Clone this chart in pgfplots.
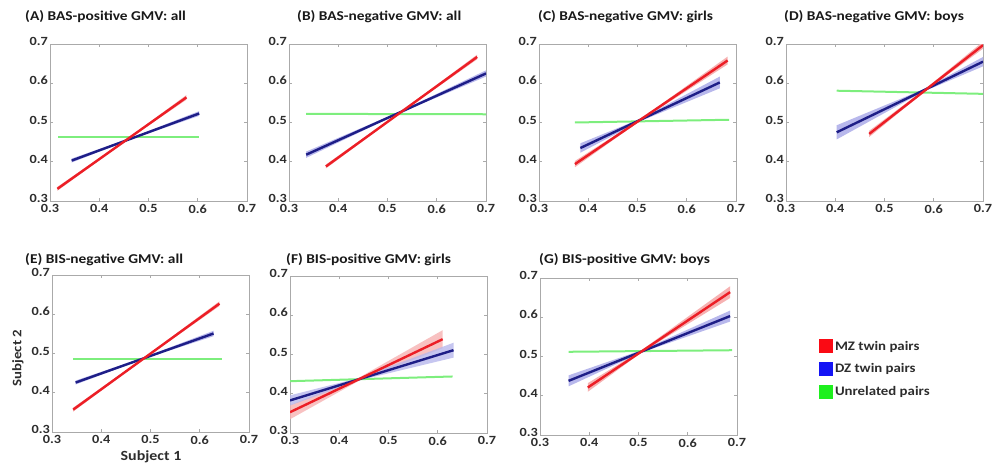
\documentclass[border=0pt]{standalone}
\usepackage{fontspec}
\setmainfont{Carlito}[FakeStretch=1.14]
\usepackage{pgfplots}
\pgfplotsset{compat=1.18}

\definecolor{mzline}{RGB}{236,30,38}
\definecolor{dzline}{RGB}{30,30,135}
\definecolor{unline}{RGB}{125,238,125}
\definecolor{mzband}{RGB}{246,178,178}
\definecolor{dzband}{RGB}{184,184,236}
\definecolor{mzleg}{RGB}{250,10,20}
\definecolor{dzleg}{RGB}{20,20,245}
\definecolor{unleg}{RGB}{30,240,30}
\definecolor{axisgray}{RGB}{170,170,170}
\definecolor{labelgray}{RGB}{45,45,45}

\pgfplotsset{
  panel/.style={
    width=197pt, height=157pt, scale only axis, anchor=south west,
    xmin=0.3, xmax=0.7, ymin=0.3, ymax=0.7,
    xtick={0.3,0.4,0.5,0.6,0.7}, ytick={0.3,0.4,0.5,0.6,0.7},
    axis line style={draw=axisgray, line width=0.9pt},
    tick style={draw=axisgray, line width=0.6pt},
    major tick length=3pt, tick align=inside,
    xtick pos=both, ytick pos=both,
    ticklabel style={font=\bfseries\fontsize{12.5}{13}\selectfont, text=labelgray},
    xticklabel style={inner sep=0.5pt, yshift=-3pt},
    yticklabel style={inner sep=0.5pt, xshift=-1.5pt, yshift=2.5pt},
    /pgf/number format/fixed, /pgf/number format/fixed zerofill,
    /pgf/number format/precision=1, /pgf/number format/assume math mode=true,
  },
  mz/.style={draw=mzline, line width=2.4pt, forget plot},
  dz/.style={draw=dzline, line width=2.4pt, forget plot},
  un/.style={draw=unline, line width=2pt, forget plot},
  mzb/.style={fill=mzband, draw=none, forget plot},
  dzb/.style={fill=dzband, draw=none, forget plot},
  sqleg/.style={legend image code/.code={\path[##1] (0pt,-7pt) rectangle (14pt,7pt);}},
}

\begin{document}
\begin{tikzpicture}
\path[use as bounding box] (0pt,0pt) rectangle (996pt,466pt);

% titles
\begin{scope}[every node/.style={anchor=west, font=\bfseries\fontsize{13.5}{14}\selectfont, text=black!90, inner sep=0pt}]
\node at (25pt,449pt) {(A) BAS-positive GMV: all};
\node at (297pt,449pt) {(B) BAS-negative GMV: all};
\node at (538pt,449pt) {(C) BAS-negative GMV: girls};
\node at (784pt,449pt) {(D) BAS-negative GMV: boys};
\node at (25pt,206pt) {(E) BIS-negative GMV: all};
\node at (286pt,206pt) {(F) BIS-positive GMV: girls};
\node at (539pt,206pt) {(G) BIS-positive GMV: boys};
\end{scope}
\node[rotate=90, font=\bfseries\fontsize{13}{13}\selectfont, text=labelgray] at (18pt,108pt) {Subject 2};
\node[font=\bfseries\fontsize{14}{14}\selectfont, text=labelgray] at (151pt,9pt) {Subject 1};

% (A)
\begin{axis}[panel, at={(50pt,265pt)}]
\addplot[mzb] coordinates {(0.315,0.336) (0.46,0.462) (0.577,0.570) (0.577,0.558) (0.46,0.458) (0.315,0.326)} -- cycle;
\addplot[dzb] coordinates {(0.344,0.408) (0.46,0.459) (0.603,0.529) (0.603,0.517) (0.46,0.455) (0.344,0.398)} -- cycle;
\addplot[un] coordinates {(0.317,0.462) (0.602,0.462)};
\addplot[dz] coordinates {(0.344,0.403) (0.603,0.523)};
\addplot[mz] coordinates {(0.315,0.331) (0.577,0.564)};
\end{axis}

% (B)
\begin{axis}[panel, at={(289pt,265pt)}]
\addplot[mzb] coordinates {(0.375,0.393) (0.525,0.526) (0.682,0.673) (0.682,0.661) (0.525,0.522) (0.375,0.383)} -- cycle;
\addplot[dzb] coordinates {(0.335,0.426) (0.525,0.528) (0.700,0.633) (0.700,0.617) (0.525,0.524) (0.335,0.410)} -- cycle;
\addplot[un] coordinates {(0.335,0.522) (0.700,0.521)};
\addplot[dz] coordinates {(0.335,0.418) (0.700,0.625)};
\addplot[mz] coordinates {(0.375,0.388) (0.682,0.667)};
\end{axis}

% (C)
\begin{axis}[panel, at={(539pt,265pt)}]
\addplot[mzb] coordinates {(0.373,0.402) (0.505,0.508) (0.683,0.668) (0.683,0.648) (0.505,0.504) (0.373,0.386)} -- cycle;
\addplot[dzb] coordinates {(0.384,0.447) (0.505,0.509) (0.667,0.617) (0.667,0.587) (0.505,0.503) (0.384,0.423)} -- cycle;
\addplot[un] coordinates {(0.373,0.500) (0.686,0.507)};
\addplot[dz] coordinates {(0.384,0.435) (0.667,0.602)};
\addplot[mz] coordinates {(0.373,0.394) (0.683,0.658)};
\end{axis}

% (D)
\begin{axis}[panel, at={(786pt,265pt)}]
\addplot[mzb] coordinates {(0.469,0.479) (0.578,0.581) (0.700,0.706) (0.700,0.688) (0.578,0.575) (0.469,0.463)} -- cycle;
\addplot[dzb] coordinates {(0.403,0.493) (0.578,0.584) (0.700,0.667) (0.700,0.643) (0.578,0.578) (0.403,0.457)} -- cycle;
\addplot[un] coordinates {(0.403,0.581) (0.700,0.573)};
\addplot[dz] coordinates {(0.403,0.475) (0.700,0.655)};
\addplot[mz] coordinates {(0.469,0.471) (0.700,0.697)};
\end{axis}

% (E)
\begin{axis}[panel, at={(52pt,34pt)}]
\addplot[mzb] coordinates {(0.343,0.362) (0.488,0.491) (0.640,0.633) (0.640,0.621) (0.488,0.487) (0.343,0.352)} -- cycle;
\addplot[dzb] coordinates {(0.348,0.431) (0.488,0.491) (0.628,0.558) (0.628,0.544) (0.488,0.487) (0.348,0.421)} -- cycle;
\addplot[un] coordinates {(0.343,0.487) (0.645,0.487)};
\addplot[dz] coordinates {(0.348,0.426) (0.628,0.551)};
\addplot[mz] coordinates {(0.343,0.357) (0.640,0.627)};
\end{axis}

% (F)
\begin{axis}[panel, at={(290pt,33pt)}]
\addplot[mzb, fill opacity=0.8] coordinates {(0.300,0.371) (0.44,0.441) (0.610,0.562) (0.610,0.516) (0.44,0.433) (0.300,0.335)} -- cycle;
\addplot[dzb, fill opacity=0.8] coordinates {(0.300,0.396) (0.44,0.440) (0.632,0.530) (0.632,0.492) (0.44,0.434) (0.300,0.370)} -- cycle;
\addplot[un] coordinates {(0.300,0.432) (0.630,0.444)};
\addplot[dz] coordinates {(0.300,0.383) (0.632,0.511)};
\addplot[mz] coordinates {(0.300,0.353) (0.610,0.539)};
\end{axis}

% (G) with legend
\begin{axis}[panel, at={(540pt,31pt)},
  legend style={at={(1.40,0.625)}, anchor=north west, draw=none, fill=none,
    font=\bfseries\fontsize{13}{13}\selectfont, text=labelgray, row sep=8pt,
    nodes={inner sep=2pt}},
  legend cell align=left]
\addplot[mzb] coordinates {(0.397,0.432) (0.506,0.516) (0.686,0.679) (0.686,0.649) (0.506,0.510) (0.397,0.410)} -- cycle;
\addplot[dzb] coordinates {(0.358,0.452) (0.506,0.516) (0.686,0.617) (0.686,0.589) (0.506,0.510) (0.358,0.424)} -- cycle;
\addplot[un] coordinates {(0.358,0.512) (0.690,0.516)};
\addplot[dz] coordinates {(0.358,0.438) (0.686,0.603)};
\addplot[mz] coordinates {(0.397,0.421) (0.686,0.664)};
\addlegendimage{sqleg, fill=mzleg, draw=none}
\addlegendentry{MZ twin pairs}
\addlegendimage{sqleg, fill=dzleg, draw=none}
\addlegendentry{DZ twin pairs}
\addlegendimage{sqleg, fill=unleg, draw=none}
\addlegendentry{Unrelated pairs}
\end{axis}
\end{tikzpicture}
\end{document}
